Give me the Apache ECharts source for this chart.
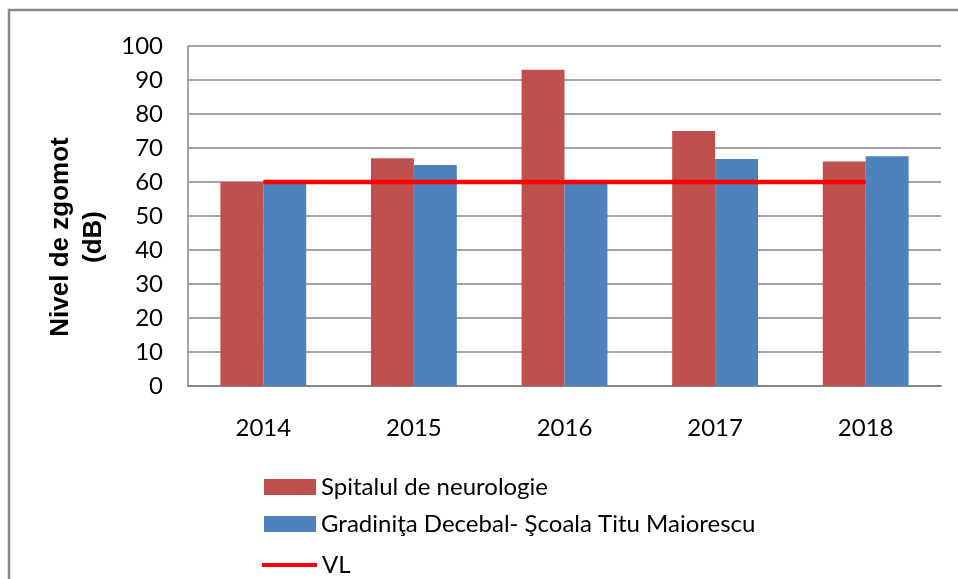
<!DOCTYPE html>
<html>
<head>
<meta charset="utf-8">
<script src="https://cdn.jsdelivr.net/npm/echarts@6/dist/echarts.min.js"></script>
<style>
  html, body { margin: 0; padding: 0; background: #ffffff; }
  #chart { width: 958px; height: 579px; }
</style>
</head>
<body>
<div id="chart"></div>
<script>
// Noise levels (dB) per year at two sites, with the limit value (VL)
const years = ['2014', '2015', '2016', '2017', '2018'];
const spitalul = [60, 67, 93, 75, 66];
const gradinita = [60, 65, 60, 66.8, 67.6];
const limitVL = [60, 60, 60, 60, 60];
const yTicks = { min: 0, max: 100, step: 10 };

const names = {
  s1: 'Spitalul de neurologie',
  s2: 'Gradiniţa Decebal- Şcoala Titu Maiorescu',
  s3: 'VL'
};

const labelFont = 'Lato, "Open Sans", sans-serif';
const gridGray = '#878787';

// one legend block per entry, stacked vertically under the plot
function legendRow(name, icon, top, left, width) {
  return {
    orient: 'vertical',
    left: left,
    top: top,
    padding: 0,
    itemWidth: width,
    itemHeight: 16,
    itemGap: 0,
    textStyle: { fontFamily: labelFont, fontSize: 24, color: '#000000' },
    data: [{ name: name, icon: icon }]
  };
}

const chart = echarts.init(document.getElementById('chart'), null, { renderer: 'canvas' });

chart.setOption({
  animation: false,
  backgroundColor: '#ffffff',
  graphic: [{
    type: 'rect',
    shape: { x: 9, y: 10, width: 1000, height: 620 },
    style: { fill: 'none', stroke: gridGray, lineWidth: 2.5 },
    silent: true,
    z: -1
  }],
  grid: { left: 188, right: 17, top: 46, bottom: 193, containLabel: false },
  legend: [
    legendRow(names.s1, 'rect', 475, 264, 52),
    legendRow(names.s2, 'rect', 512, 264, 52),
    legendRow(names.s3, 'path://M0,0L14,0L14,1L0,1Z', 553, 262, 55)
  ],
  xAxis: {
    type: 'category',
    data: years,
    boundaryGap: true,
    axisLine: { show: true, lineStyle: { color: gridGray, width: 2 } },
    axisTick: { show: false },
    axisLabel: { fontFamily: labelFont, fontSize: 24, color: '#000000', margin: 30 },
    splitLine: { show: false }
  },
  yAxis: {
    type: 'value',
    min: yTicks.min,
    max: yTicks.max,
    interval: yTicks.step,
    name: 'Nivel de zgomot\n(dB)',
    nameLocation: 'middle',
    nameRotate: 90,
    nameGap: 74,
    nameTextStyle: {
      fontFamily: '"Liberation Sans", Arial, sans-serif',
      fontWeight: 'bold',
      fontSize: 26,
      lineHeight: 33,
      color: '#000000',
      align: 'center',
      padding: [0, 42, 0, 0]
    },
    axisLine: { show: true, lineStyle: { color: gridGray, width: 1.5 } },
    axisTick: { show: false },
    axisLabel: { fontFamily: labelFont, fontSize: 24, color: '#000000', margin: 25 },
    splitLine: { show: true, lineStyle: { color: gridGray, width: 1.5 } }
  },
  series: [
    {
      name: names.s1,
      type: 'bar',
      data: spitalul,
      barGap: '0%',
      barCategoryGap: '43%',
      itemStyle: { color: '#C0504D' }
    },
    {
      name: names.s2,
      type: 'bar',
      data: gradinita,
      itemStyle: { color: '#4F81BD' }
    },
    {
      name: names.s3,
      type: 'line',
      data: limitVL,
      symbol: 'none',
      showSymbol: false,
      itemStyle: { color: '#FF0000' },
      lineStyle: { color: '#FF0000', width: 4.5 },
      z: 5
    }
  ]
});
</script>
</body>
</html>
